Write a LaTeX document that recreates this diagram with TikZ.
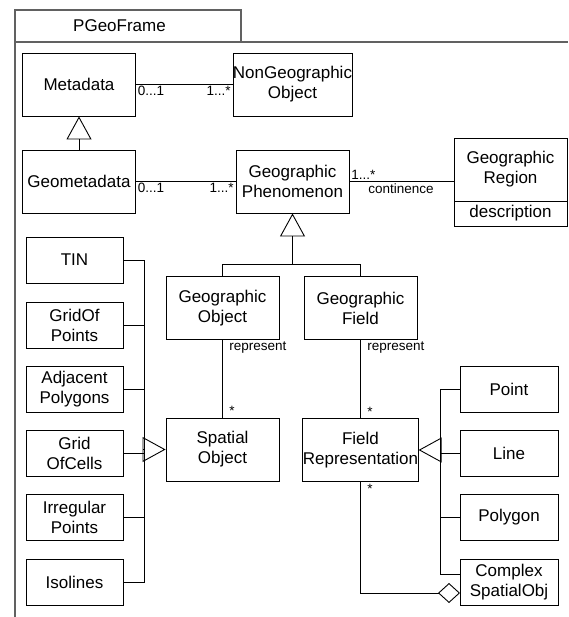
\documentclass[tikz,border=0pt]{standalone}
\usepackage{fontspec}
\setmainfont{Liberation Sans}
\usepackage{tikz}
\usetikzlibrary{
    arrows.meta,
    calc
}
\colorlet{framegray}{black!62}
\newcommand{\boxfont}{\fontsize{17}{20}\selectfont}
\newcommand{\lblfont}{\fontsize{13.5}{15}\selectfont}

\begin{document}
\begin{tikzpicture}[x=1pt, y=-1pt,
    cls/.style={draw, line width=0.9pt, minimum width=113pt, minimum height=63pt,
        inner sep=0pt, align=center, font=\boxfont},
    leaf/.style={cls, minimum width=97pt, minimum height=46pt},
    lbl/.style={font=\lblfont, inner sep=1.5pt},
    assoc/.style={line width=0.9pt},
    gen/.style={line width=0.9pt, -{Triangle[open, length=23pt, width=25pt]}},
    aggr/.style={line width=0.9pt, -{Diamond[open, length=22pt, width=20pt]}},
    frameline/.style={line width=2pt, draw=framegray}]
    \useasboundingbox (0,0) rectangle (568,617);
    \draw[frameline] (15,617) -- (15,10) -- (241,10) -- (241,42);
    \draw[frameline] (15,42) -- (568,42);
    \node[font=\boxfont] (framename) at (119.5,26) {PGeoFrame};
    \node[cls] (meta) at (79,84.5) {Metadata};
    \node[cls] (nongeo) at (292.5,84.5) {NonGeographic\\Object};
    \node[cls] (geometa) at (79,181.5) {Geometadata};
    \node[cls] (phen) at (292.5,181.5) {Geographic\\Phenomenon};
    \node[cls] (region) at (510.5,169.5) {Geographic\\Region};
    \node[cls, minimum height=25pt] (regattr) at (510.5,213.5) {description};
    \node[cls] (geoobj) at (222.5,308) {Geographic\\Object};
    \node[cls] (geofield) at (360.5,308) {Geographic\\Field};
    \node[cls] (spatial) at (222.5,449.5) {Spatial\\Object};
    \node[cls] (fieldrep) at (360.5,450) {Field\\Representation};
    \node[leaf] (tin) at (74.5,260) {TIN};
    \node[leaf] (gridpts) at (74.5,325) {GridOf\\Points};
    \node[leaf] (adjpoly) at (74.5,389) {Adjacent\\Polygons};
    \node[leaf] (gridcells) at (74.5,453) {Grid\\OfCells};
    \node[leaf] (irregpts) at (74.5,517.5) {Irregular\\Points};
    \node[leaf] (isolines) at (74.5,582) {Isolines};
    \node[leaf, minimum width=98pt] (pointobj) at (509,389) {Point};
    \node[leaf, minimum width=98pt] (lineobj) at (509,453) {Line};
    \node[leaf, minimum width=98pt] (polyobj) at (509,517.5) {Polygon};
    \node[leaf, minimum width=98pt] (complex) at (509,582) {Complex\\SpatialObj};
    \coordinate (phenjoin) at (292.5,264);
    \coordinate (lbus) at (144,449.5);
    \coordinate (rbus) at (440,450);
    \coordinate (cplxin) at (440,574);
    \coordinate (aggend) at (460,593);
    \draw[gen] (geometa) -- (meta);
    \draw[assoc] (meta) -- node[lbl, pos=0, anchor=north west] {0...1}
        node[lbl, pos=1, anchor=north east] {1...*} (nongeo);
    \draw[assoc] (geometa) -- node[lbl, pos=0, anchor=north west] {0...1}
        node[lbl, pos=1, anchor=north east] {1...*} (phen);
    \draw[assoc] (phen.east) -- node[lbl, pos=0, anchor=south west] {1...*}
        node[lbl, pos=0, anchor=north west, xshift=17pt] {continence} (phen.east -| region.west);
    \draw[assoc]
    (geoobj.north) |- (phenjoin) (geofield.north) |- (phenjoin);
    \draw[gen] (phenjoin) -- (phen.south);
    \draw[assoc] (geoobj) -- node[lbl, pos=0, anchor=north west, xshift=5pt] {represent}
        node[lbl, pos=1, anchor=south west, xshift=5pt] {*} (spatial);
    \draw[assoc] (geofield) -- node[lbl, pos=0, anchor=north west, xshift=5pt] {represent}
        node[lbl, pos=1, anchor=south west, xshift=5pt] {*} (fieldrep);
    \draw[assoc]
    (tin.east) -- (tin.east -| lbus) -- (isolines.east -| lbus) -- (isolines.east)
    (gridpts.east) -- (gridpts.east -| lbus)
    (adjpoly.east) -- (adjpoly.east -| lbus)
    (gridcells.east) -- (gridcells.east -| lbus)
    (irregpts.east) -- (irregpts.east -| lbus);
    \draw[gen] (lbus) -- (spatial.west);
    \draw[assoc]
    (pointobj.west) -- (pointobj.west -| rbus) -- (cplxin) -- (cplxin -| complex.west)
    (lineobj.west) -- (lineobj.west -| rbus)
    (polyobj.west) -- (polyobj.west -| rbus);
    \draw[gen] (rbus) -- (fieldrep.east);
    \draw[aggr] (fieldrep.south) |- node[lbl, pos=0, anchor=north west, xshift=5pt] {*} (aggend);
\end{tikzpicture}
\end{document}
